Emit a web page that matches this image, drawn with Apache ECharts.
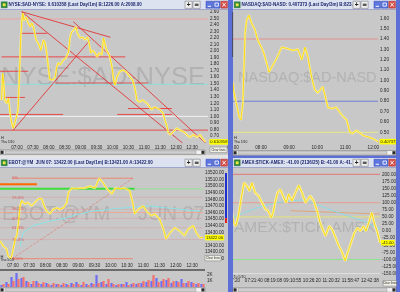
<!DOCTYPE html>
<html><head><meta charset="utf-8"><title>Trading screens</title>
<script src="https://cdn.jsdelivr.net/npm/echarts@6/dist/echarts.min.js"></script>
<style>html,body{margin:0;padding:0;background:#c8c8c8;overflow:hidden}#c{width:400px;height:292px}</style>
</head><body><div id="c"></div>
<script>
// ================= DATA =================
const titleNyse = 'NYSE:$AD-NYSE: 0.610358 (Last Day/1m) B:1226.00 A:2008.00';
const titleNasd = 'NASDAQ:$AD-NASD: 0.407373 (Last Day/3m) B:823.0';
const titleYm   = 'EBOT:@YM  JUN 07: 13422.00 (Last Day/1m) B:13421.00 A:13422.00';
const titleTick = 'AMEX:$TICK-AMEX: -41.00 (2136/25) B:-41.00 A:-41.';
const lastNyse = '0.610358', lastNasd = '0.407373', lastYm = '13422.00', lastTick = '-41.00';

// NYSE A/D ratio (minutes since midnight, value)
const nyseTime = [391,393,395,397,401,404,407,410,413,416,419,422,424,427,429,431,433,437,441,445,448,451,456,460,465,470,473,476,479,482,485,488,492,495,498,502,507,512,517,520,523,527,531,534,539,544,548,553,556,559,563,567,571,575,580,583,586,589,594,599,602,605,608,613,619,626,633,638,643,646,651,657,665,674,678,683,690,695,699,702,705,709,714,721,727,735,740,746,752,760,765,771,775];
const nyseVal = [1.25,1.66,1.51,1.25,1.20,1.28,1.05,0.90,0.82,0.90,0.99,1.10,1.51,2.17,2.47,2.58,2.47,2.52,2.43,2.37,2.43,2.37,2.17,2.12,2.01,2.17,2.12,1.97,1.76,1.56,1.53,1.56,1.60,1.76,1.82,1.79,1.86,1.89,1.98,2.21,2.29,2.32,2.37,2.27,2.20,2.21,2.17,2.21,2.12,1.97,2.01,1.97,1.91,1.97,1.94,2.20,2.20,2.01,1.94,1.76,1.56,1.48,1.60,1.68,1.71,1.68,1.60,1.56,1.40,1.25,1.22,1.25,1.20,1.10,1.14,1.13,1.10,1.05,0.94,0.87,0.75,0.72,0.76,0.82,0.79,0.76,0.72,0.68,0.72,0.68,0.72,0.65,0.61];
const nyseTicks = [0.7,0.8,0.9,1.0,1.1,1.2,1.3,1.4,1.5,1.6,1.7,1.8,1.9,2.0,2.1,2.2,2.3,2.4,2.5,2.6];
const halfHourTicks = [420,450,480,510,540,570,600,630,660,690,720,750];
const nyseLevelVal  = [2.49,2.27,1.91,1.69,1.51,1.49,1.29,1.12,1.03,1.03,1.00,0.79];
const nyseLevelFrom = [388,426,391,388,492,388,397,629,388,609,388,388];
const nyseLevelTo   = [780,477,624,441,667,780,435,712,507,712,780,780];
const nyseTrendFromT = [429,429,413,526], nyseTrendFromV = [2.60,2.60,0.79,2.45];
const nyseTrendToT   = [596,732,558,775], nyseTrendToV   = [2.21,0.593,2.17,0.593];

// NASDAQ A/D ratio
const nasdTime = [420,421,429,433,437,441,446,449,454,460,467,473,484,492,497,503,513,524,535,548,559,567,574,580,588,595,601,612,623,631,641,652,663,670,676,684,698,713,723,730];
const nasdVal = [0.98,0.91,0.74,0.65,0.62,0.78,1.46,1.58,1.63,1.55,1.49,1.39,1.29,1.17,1.08,1.13,1.21,1.32,1.31,1.29,1.30,1.20,1.32,1.23,1.03,0.91,0.88,0.94,0.74,0.73,0.74,0.67,0.62,0.50,0.49,0.52,0.47,0.45,0.43,0.41];
const nasdTicks = [0.5,0.6,0.7,0.8,0.9,1.0,1.1,1.2,1.3,1.4,1.5,1.6];
const hourTicks = [420,480,540,600,660,720];
const nasdLevels = [1.40,0.80,0.50];

// Mini Dow futures
const ymTime = [396,402,408,411,416,419,424,427,430,433,436,442,448,454,460,467,473,476,482,488,494,500,506,513,519,522,528,534,543,552,562,571,579,586,592,602,608,617,626,635,641,644,651,660,666,675,681,690,697,702,709,718,727,736,743,752,758,764,770];
const ymVal = [13417,13409,13405,13394,13390,13399,13420,13425,13444,13470,13478,13473,13475,13470,13475,13481,13481,13473,13462,13458,13465,13467,13465,13467,13475,13490,13497,13496,13497,13497,13500,13497,13512,13505,13497,13488,13497,13496,13497,13493,13473,13458,13465,13470,13462,13455,13458,13450,13435,13420,13429,13437,13432,13425,13435,13440,13429,13422,13422];
const ymTicks = [13390,13400,13410,13420,13430,13440,13450,13460,13470,13480,13490,13500,13510,13520];
const fibVals = [13512,13483,13465,13451,13437,13419,13390];
const fibNames = ['0%','23.6%','38.2%','50%','61.8%','76.4%','100%'];
const fibAnchorTime = 418, fibEndTime = 641;
const ymLevelVal = [13503,13496,13496,13460], ymLevelFrom = [396,396,644,396], ymLevelTo = [464,644,770,770];
const ymMaTime = [433,438,457,488,519,543,567,598,641,672,703,740,764];
const ymMaVal = [13409,13429,13440,13447,13452,13458,13462,13465,13468,13470,13467,13464,13462];
const volBuckets = ['06:36','06:45','06:54','07:03','07:12','07:21','07:30','07:39','07:48','07:57','08:06','08:15','08:24','08:33','08:42','08:51','09:00','09:09','09:18','09:27','09:36','09:45','09:54','10:03','10:12','10:21','10:30','10:39','10:48','10:57','11:06','11:15','11:24','11:33','11:42','11:51','12:00','12:09','12:18','12:27','12:36'];
const volBuy  = [330,830,1670,2330,1500,1000,500,1000,500,670,330,500,330,500,670,830,330,500,670,2000,830,500,670,330,500,830,500,500,670,830,1000,1500,1000,1170,670,1000,1330,670,830,500,500];
const volSell = [500,500,1000,1330,1670,830,1000,670,830,500,670,500,670,330,500,500,830,330,500,670,1000,1330,500,500,500,330,670,670,1000,1170,2000,830,1330,1500,1000,830,670,1000,670,670,500];
const volTicks = [1000,2000];

// AMEX TICK (tick-count bars)
const tickBar = [0,3,8,13,20,25,31,36,41,48,55,62,69,75,81,85,89,94,100,107,112,117,124,131,138,145,152,157,162,169,176,182,189,193,201,207,214,221,228,234,239,246,253,260,265,272,277,284,289,294,301,306];
const tickVal = [65,30,18,53,124,170,159,141,170,135,124,100,77,71,47,65,100,135,147,118,100,130,106,135,161,135,100,112,124,106,71,30,0,-17,18,6,-23,-52,-76,-105,-76,-41,-6,12,0,18,0,36,65,30,-6,-41];
const tickLabelBars = [5,45,85,125,165,205,245,285];
const tickLabels = ['07:20','07:21:40','08:19:08','09:10:55','10:26:20','11:20:32','11:58:47','12:42:38'];
const tickTicks = [-150,-125,-100,-75,-50,-25,0,25,50,75,100,125,150,175,200];
const tickLevels = [200,100,50,-100,-150];
const tickMaBar = [0,27,58,90,121,142,173,210,246,277,306];
const tickMaVal = [46,67,85,99,106,110,95,71,50,32,7];
const tickAvgBar = [121,306], tickAvgVal = [72,60];

// ================= STYLE / BUILD =================
const FONT = 'Liberation Sans';
const LBL = {fontSize:4.6, color:'#262626', fontFamily:FONT};
const nyseLevelColors = ['#f0a0a0','#ec3a3a','#ec3a3a','#ec3a3a','#ec3a3a','#86e2e2','#ec3a3a','#ec3a3a','#ec3a3a','#ec3a3a','#f6f6f6','#ec3a3a'];
const nasdLevelColors = ['#e48a8a','#6577d6','#ecec78'];
const tickLevelColors = ['#e26a6a','#eb9a88','#e8e46a','#86e486','#e8e8e8'];
const GLOW = 'rgba(246,242,170,0.9)';

const zip = (a,b)=>a.map((x,i)=>[x,b[i]]);
const hhmm = v => { const h=Math.floor(v/60), m=Math.round(v%60); return (h<10?'0':'')+h+':'+(m<10?'0':'')+m; };
function line(g, pts, color, width, type, z, extra){
  return Object.assign({type:'line', xAxisIndex:g, yAxisIndex:g, data:pts, symbol:'none', showSymbol:false,
    silent:true, animation:false, clip:true, lineStyle:{color:color, width:width, type:type||'solid'}, z:z||2}, extra||{});
}
function endLbl(text, dist){
  return {endLabel:{show:true, formatter:()=>text, backgroundColor:'#ffff00', color:'#1a1a1a', fontSize:4.1,
    fontFamily:FONT, padding:[1,1,0.5,1], distance:dist}};
}
function xA(g,min,max,ticks,fmt,margin){
  return {gridIndex:g, type:'value', min:min, max:max, axisLine:{show:false}, axisTick:{show:false}, splitLine:{show:false},
    axisLabel:Object.assign({customValues:ticks, formatter:fmt, margin:margin}, LBL)};
}
function yA(g,min,max,ticks,fmt,margin){
  return {gridIndex:g, type:'value', position:'right', min:min, max:max, axisLine:{show:false}, axisTick:{show:false}, splitLine:{show:false},
    axisLabel:Object.assign({customValues:ticks, formatter:fmt, margin:margin}, LBL)};
}

const S = [];
// --- NYSE (grid 0)
nyseLevelVal.forEach((v,i)=>S.push(line(0,[[nyseLevelFrom[i],v],[nyseLevelTo[i],v]], nyseLevelColors[i], 0.9)));
nyseTrendFromT.forEach((t,i)=>S.push(line(0,[[t,nyseTrendFromV[i]],[nyseTrendToT[i],nyseTrendToV[i]]], '#e62424', 0.8)));
S.push(line(0, zip(nyseTime,nyseVal), GLOW, 2.2, 'solid', 3));
S.push(line(0, zip(nyseTime,nyseVal), '#ffd600', 0.9, 'solid', 4, endLbl(lastNyse,4)));
// --- NASDAQ (grid 1)
nasdLevels.forEach((v,i)=>S.push(line(1,[[420,v],[730,v]], nasdLevelColors[i], 0.9)));
S.push(line(1, zip(nasdTime,nasdVal), GLOW, 2.2, 'solid', 3));
S.push(line(1, zip(nasdTime,nasdVal), '#ffd600', 0.9, 'solid', 4, endLbl(lastNasd,1.5)));
// --- YM (grid 2)
fibVals.forEach((v,i)=>{ if(i>0 && i<6) S.push(line(2,[[396,v],[770,v]], '#e88a8a', 0.7, 'dotted')); });
S.push(line(2,[[fibAnchorTime,fibVals[0]],[fibEndTime,fibVals[0]]], '#f08068', 0.9));
S.push(line(2,[[fibAnchorTime,fibVals[6]],[fibEndTime,fibVals[6]]], '#f08068', 0.9));
S.push(line(2,[[fibAnchorTime,fibVals[6]],[fibEndTime,fibVals[0]]], '#e27a7a', 0.7, 'dashed'));
const ymLevelStyles = [['#ff6a00',2],['#3ede3e',2],['#98e098',1],['#f0a48a',0.9]];
ymLevelVal.forEach((v,i)=>S.push(line(2,[[ymLevelFrom[i],v],[ymLevelTo[i],v]], ymLevelStyles[i][0], ymLevelStyles[i][1])));
S.push(line(2, zip(ymMaTime,ymMaVal), '#8ae4e8', 1));
S.push({type:'scatter', xAxisIndex:2, yAxisIndex:2, silent:true, symbolSize:0, z:3,
  data: fibVals.map((v,i)=>({value:[fibAnchorTime,v], label:{formatter:fibNames[i]}})),
  label:{show:true, position:'right', distance:0, fontSize:4.3, color:'#d84848', fontFamily:FONT}});
S.push(line(2, zip(ymTime,ymVal), GLOW, 2.2, 'solid', 3));
S.push(line(2, zip(ymTime,ymVal), '#ffd600', 0.9, 'solid', 4, endLbl(lastYm,2)));
// --- Volume (grid 3)
S.push({type:'bar', xAxisIndex:3, yAxisIndex:3, data:volBuy, silent:true, barWidth:2.2, barGap:'-10%', itemStyle:{color:'#6e6ef2'}});
S.push({type:'bar', xAxisIndex:3, yAxisIndex:3, data:volSell, silent:true, barWidth:2.2, barGap:'-10%', itemStyle:{color:'#f27070'}});
// --- TICK (grid 4)
tickLevels.forEach((v,i)=>S.push(line(4,[[0,v],[306,v]], tickLevelColors[i], 0.9)));
S.push(line(4, zip(tickAvgBar,tickAvgVal), '#e0a070', 0.9));
S.push(line(4, zip(tickMaBar,tickMaVal), '#84dce4', 0.9));
S.push(line(4, zip(tickBar,tickVal), GLOW, 2.8, 'solid', 3));
S.push(line(4, zip(tickBar,tickVal), '#ffd600', 0.9, 'solid', 4, endLbl(lastTick,1)));

// ---------- window chrome ----------
function R(x,y,w,h,fill,stroke,lw,z){return {type:'rect',shape:{x:x,y:y,width:w,height:h},style:{fill:fill||'transparent',stroke:stroke||'transparent',lineWidth:stroke?(lw||0.6):0},z:z||100,silent:true};}
function T(x,y,s,size,fill,weight,align,z){return {type:'text',x:x,y:y,style:{text:s,fontSize:size,fontFamily:FONT,fontWeight:weight||'normal',fill:fill,align:align||'left',verticalAlign:'middle',textAlign:align||'left',textVerticalAlign:'middle'},z:z||103,silent:true};}
function L(x1,y1,x2,y2,stroke,lw){return {type:'line',shape:{x1:x1,y1:y1,x2:x2,y2:y2},style:{stroke:stroke,lineWidth:lw||0.8},z:104,silent:true};}
function titleBar(x,y,w,title,plusX,minX){
  return [
    R(x,y,w,9.5,'#dde2f1'), R(x,y+9.3,w,0.7,'#8d97c4',null,0,101),
    R(x+1.2,y+1.8,6,6,'#2e8b3a','#1d5e26',0.4,101), R(x+2.8,y+3.4,2.8,2.8,'#f3e64c',null,0,102),
    T(x+8.5,y+5,title,4.5,'#1b276b','bold','left',101),
    R(plusX,y+1.2,7.2,7.2,'#ededed','#6d6d6d',0.5,102), T(plusX+3.6,y+5,'+',6.5,'#202020','bold','center'),
    R(plusX+8,y+1.2,7.2,7.2,'#ededed','#6d6d6d',0.5,102), R(plusX+9.8,y+3.6,3.8,2.4,'#5a5a5a',null,0,103),
    R(minX,y+1.2,6.6,7,'#5d76e0','#2d44a8',0.5,102), R(minX+1.6,y+5.8,3.4,1,'#ffffff',null,0,103),
    R(minX+7.4,y+1.2,6.6,7,'#5d76e0','#2d44a8',0.5,102), R(minX+9,y+3,3.4,3.2,null,'#ffffff',0.8,103),
    R(minX+14.8,y+1.2,6.6,7,'#d8504a','#9a2a24',0.5,102),
    L(minX+16.4,y+2.8,minX+19.8,y+6.6,'#ffffff',0.9), L(minX+19.8,y+2.8,minX+16.4,y+6.6,'#ffffff',0.9)
  ];
}
function scroll(x,y,w){
  return [R(x,y,w,4.6,'#f2f2f2','#6a6a6a',0.5), R(x+5,y+0.8,w-14,3,'#cfcfcf','#8a8a8a',0.4,101),
    R(x+0.6,y+0.7,3,3.2,'#2a2a2a',null,0,101), R(x+w-3.6,y+0.7,3,3.2,'#2a2a2a',null,0,101)];
}
function btn(x,y,w,h){ return [R(x,y,w,h,'#efefe6','#7a7a7a',0.5), T(x+w/2,y+h/2,'Clear lines',3,'#303030','normal','center')]; }
const BLUE = '#5b6fd6';
const WM = '#b2b2b2';
const G = [
  // watermarks
  T(1,78,'NYSE:$AD-NYSE',25.5,WM,'normal','left',1),
  T(238,78,'NASDAQ:$AD-NASD',14.5,WM,'normal','left',1),
  T(2,214,'EBOT:@YM',20,WM,'normal','left',1),
  T(138,214,'JUN 07',20,WM,'normal','left',1),
  T(234,228,'AMEX:$TICK-AMEX',15.5,WM,'normal','left',1),
  // separators / frames
  R(0,155,228,3,'#e4e4e4'),
  R(228,155.5,172,2.5,BLUE),
  R(228,0,5,292,BLUE), R(396,0,4,292,BLUE),
  R(0,269.5,205,1,'#101010'),
  R(232.3,12,0.8,45,'#404040'),
  R(225,173,2,45,'#2030d0'), R(225,218,2,5,'#e02020'),
  // small texts
  T(1,137.8,'H',4,'#202020'), T(1,141.8,'Tha 5/10',3.4,'#202020'),
  T(234,137.8,'H',4,'#202020'), T(234,141.8,'Tha 5/10',3.4,'#202020'),
  T(0.5,256.5,'H',4,'#202020'), T(0.5,260.5,'Tha 5/10',3.4,'#202020'),
  T(233.5,276.5,'Tu 5/10',3.6,'#202020'),
  ...btn(210,147,17,5.6), ...btn(205,255.5,16,5.4), ...btn(383,280.5,13.5,5.6),
  ...scroll(0,150,205), ...scroll(233,150.5,163), ...scroll(0,287.6,205), ...scroll(233,287.6,163),
  ...titleBar(0,0,228,titleNyse,185,206),
  ...titleBar(233,0,163,titleNasd,353,374),
  ...titleBar(0,158,228,titleYm,185,206),
  ...titleBar(233,158,163,titleTick,353,374)
];

const grids = [
  {left:0, top:10, width:208, height:133},
  {left:233, top:10, width:145, height:133},
  {left:0, top:167, width:203, height:95},
  {left:0, top:271, width:205, height:16},
  {left:232, top:167, width:148, height:107}
].map(g=>Object.assign({containLabel:false, outerBoundsMode:'none', show:false}, g));

const option = {
  animation:false,
  backgroundColor:'#c8c8c8',
  textStyle:{fontFamily:FONT},
  grid: grids,
  xAxis:[
    xA(0,388,780,halfHourTicks,hhmm,2.5),
    xA(1,420,730,hourTicks,hhmm,2.5),
    xA(2,396,770,halfHourTicks,hhmm,1),
    {gridIndex:3, type:'category', data:volBuckets, show:false},
    xA(4,0,306,tickLabelBars,v=>tickLabels[tickLabelBars.indexOf(v)]||'',4.5)
  ],
  yAxis:[
    yA(0,0.593,2.627,nyseTicks,v=>v.toFixed(2),2),
    yA(1,0.397,1.68,nasdTicks,v=>v.toFixed(2),2),
    yA(2,13385,13529,ymTicks,v=>v.toFixed(2),2),
    yA(3,0,2670,volTicks,v=>(v/1000)+'K',2),
    yA(4,-151,225.7,tickTicks,v=>v.toFixed(2),2)
  ],
  series:S,
  graphic:{elements:G}
};
const chart = echarts.init(document.getElementById('c'), null, {width:400, height:292, renderer:'canvas'});
chart.setOption(option);
</script></body></html>
